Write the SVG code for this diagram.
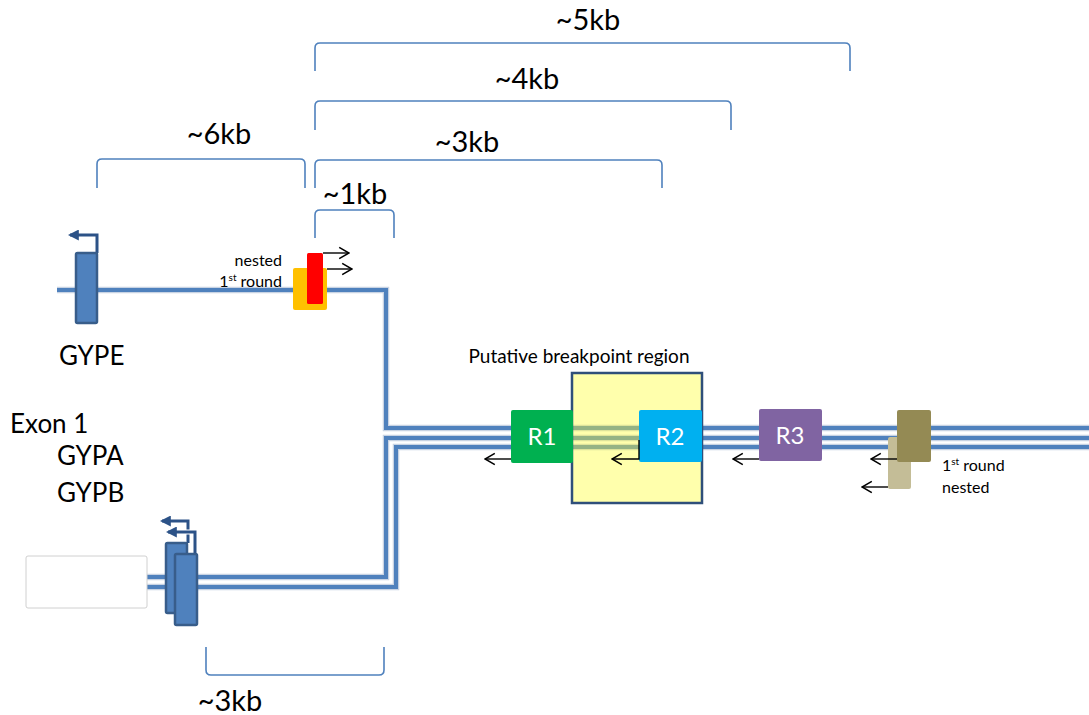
<svg xmlns="http://www.w3.org/2000/svg" width="1089" height="715" viewBox="0 0 1089 715">
<style>
text{font-family:"Lato","Liberation Sans",sans-serif;fill:#000}
.big{font-size:29px}
.lbl{font-size:26px}
.sm{font-size:16px}
.reg{font-size:24px;fill:#fff}
.brk{fill:none;stroke:#4f81bd;stroke-width:1.6}
.dnaO{fill:none;stroke:#c8d3e3;stroke-width:6.5}
.dna{fill:none;stroke:#4f81bd;stroke-width:4}
.exon{fill:#4f81bd;stroke:#385d8a;stroke-width:2.5}
.tss{fill:none;stroke:#2c5287;stroke-width:3}
.prim{fill:none;stroke:#000;stroke-width:1.4}
</style>
<defs>
<marker id="open" viewBox="0 0 10 10" refX="9" refY="5" markerWidth="14" markerHeight="14" markerUnits="userSpaceOnUse" orient="auto-start-reverse">
<path d="M2,1 L9,5 L2,9" fill="none" stroke="#000" stroke-width="1.1"/>
</marker>
<marker id="fill" viewBox="0 0 10 10" refX="8" refY="5" markerWidth="11" markerHeight="11" markerUnits="userSpaceOnUse" orient="auto-start-reverse">
<path d="M10,5 L0,0 L0,10 Z" fill="#2c5287"/>
</marker>
</defs>

<g id="connectors">
<path class="dnaO" d="M57,290 H386 V428 H1089"/>
<path class="dnaO" d="M147,577 H386 V438 H1089"/>
<path class="dnaO" d="M147,587 H396 V447 H1089"/>
<path class="dna" d="M57,290 H386 V428 H1089"/>
<path class="dna" d="M147,577 H386 V438 H1089"/>
<path class="dna" d="M147,587 H396 V447 H1089"/>
</g>

<g id="brackets">
<path class="brk" d="M315,71 V48 Q315,43 320,43 H845 Q850,43 850,48 V71"/>
<path class="brk" d="M315,130 V106 Q315,101 320,101 H726 Q731,101 731,106 V130"/>
<path class="brk" d="M315,188 V165 Q315,160 320,160 H657 Q662,160 662,165 V188"/>
<path class="brk" d="M315,238 V215 Q315,210 320,210 H389 Q394,210 394,215 V238"/>
<path class="brk" d="M97,188 V164 Q97,159 102,159 H300 Q305,159 305,164 V188"/>
<path class="brk" d="M206,647 V670 Q206,675 211,675 H379 Q384,675 384,670 V647"/>
<text class="big" x="588" y="30" text-anchor="middle">~5kb</text>
<text class="big" x="527" y="89" text-anchor="middle">~4kb</text>
<text class="big" x="467" y="152" text-anchor="middle">~3kb</text>
<text class="big" x="355" y="204" text-anchor="middle">~1kb</text>
<text class="big" x="219" y="144" text-anchor="middle">~6kb</text>
<text class="big" x="230" y="711" text-anchor="middle">~3kb</text>
</g>

<g id="gype">
<path class="tss" d="M97,253 V235 H70" marker-end="url(#fill)"/>
<rect class="exon" x="76" y="253" width="21" height="70" rx="1.5"/>
<text class="lbl" x="59" y="365">GYPE</text>
</g>

<g id="labels-left">
<text class="lbl" x="10" y="433">Exon 1</text>
<text class="lbl" x="57" y="465">GYPA</text>
<text class="lbl" x="57" y="502">GYPB</text>
</g>

<g id="gypab">
<rect x="26" y="556" width="121" height="52" rx="2" fill="#fff" stroke="#d0d0d0" stroke-width="1"/>
<path class="tss" d="M188,543 V521 H162" marker-end="url(#fill)"/>
<rect class="exon" x="166" y="543" width="21" height="70" rx="1.5"/>
<path d="M195,554 V532 H172" fill="none" stroke="#fff" stroke-width="5"/>
<path class="tss" d="M195,554 V532 H168" marker-end="url(#fill)"/>
<rect class="exon" x="175" y="554" width="22" height="71" rx="1.5"/>
</g>

<g id="primers-left">
<rect x="293" y="268" width="34" height="42" rx="2" fill="#ffc000"/>
<rect x="307" y="253" width="16" height="51" rx="1.5" fill="#ff0000"/>
<path class="prim" d="M323,253 H349" marker-end="url(#open)"/>
<path class="prim" d="M327,269 H352" marker-end="url(#open)"/>
<text class="sm" x="282" y="266" text-anchor="end">nested</text>
<text class="sm" x="282" y="287" text-anchor="end">1<tspan font-size="10" dy="-6">st</tspan><tspan dy="6"> round</tspan></text>
</g>

<g id="breakpoint">
<text x="579" y="363" font-size="19" text-anchor="middle">Putative breakpoint region</text>
<rect x="572" y="373" width="130" height="130" fill="#ffff30" fill-opacity="0.4"/>
<rect x="572" y="373" width="130" height="130" fill="none" stroke="#2f4f7a" stroke-width="2.5"/>
</g>

<g id="R1">
<rect x="511" y="410" width="62" height="53" rx="2" fill="#00b050"/>
<text class="reg" x="542" y="445" text-anchor="middle">R1</text>
<path class="prim" d="M511,459 H485" marker-end="url(#open)"/>
</g>

<g id="R2">
<rect x="639" y="410" width="63" height="52" rx="2" fill="#00b0f0"/>
<text class="reg" x="670" y="445" text-anchor="middle">R2</text>
<path class="prim" d="M639,440 V459 H612" marker-end="url(#open)"/>
</g>

<g id="R3">
<rect x="759" y="409" width="63" height="52" rx="2" fill="#8064a2"/>
<text class="reg" x="790" y="444" text-anchor="middle">R3</text>
<path class="prim" d="M759,459 H733" marker-end="url(#open)"/>
</g>

<g id="primers-right">
<rect x="888" y="437" width="23" height="52" rx="2" fill="#c4bd97"/>
<rect x="897" y="410" width="34" height="52" rx="2" fill="#948a54"/>
<path class="prim" d="M897,459 H871" marker-end="url(#open)"/>
<path class="prim" d="M888,487 H862" marker-end="url(#open)"/>
<text class="sm" x="942" y="471">1<tspan font-size="10" dy="-6">st</tspan><tspan dy="6"> round</tspan></text>
<text class="sm" x="942" y="493">nested</text>
</g>
</svg>
